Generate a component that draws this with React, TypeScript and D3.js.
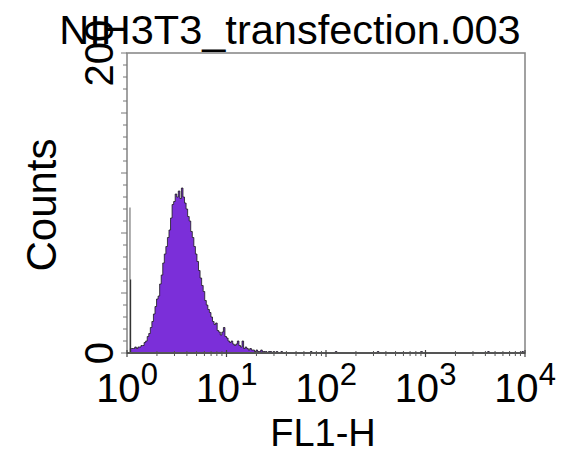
import React from "react";
import * as d3 from "d3";

// Histogram channel counts (256 channels spanning 10^0..10^4), channels 2..100
const channelCounts: number[] = [
  3, 3, 3, 4, 3, 4, 4, 5, 5, 7,
  8, 11, 13, 17, 21, 26, 31, 36, 38, 46,
  52, 60, 66, 71, 77, 82, 90, 99, 101, 106,
  104, 108, 103, 110, 104, 100, 96, 91, 88, 81,
  77, 71, 66, 61, 55, 50, 45, 41, 35, 32,
  29, 27, 24, 21, 19, 20, 15, 14, 12, 14,
  17, 11, 10, 8, 7, 8, 6, 5, 6, 8,
  5, 4, 8, 3, 4, 3, 2, 3, 2, 2,
  1, 2, 1, 1, 2, 1, 1, 1, 0, 1,
  1, 0, 1, 0, 1, 0, 0, 1, 0,
];
const firstChannel = 2;
// sparse events at high channels
const sparseChannels: number[] = [118, 134, 161, 189, 232, 254];
const sparseCounts: number[] = [1, 1, 1, 1, 1, 1];
// off-scale pile-up at the lowest channel (gray and dark traces)
const edgeSpikeGray = 97;
const edgeSpikeDark = 49;

const nChannels = 256;
const xDecades: number[] = [0, 1, 2, 3, 4];
const yMax = 200;
const yTickLabels: number[] = [0, 200];

const W = 571;
const H = 453;
const left = 127;
const right = 525;
const top = 53;
const bottom = 353;

export default function App() {
  const x = d3.scaleLog().domain([1, 1e4]).range([left, right]);
  const ch = d3.scaleLinear().domain([0, nChannels]).range([left, right]);
  const y = d3.scaleLinear().domain([0, yMax]).range([bottom, top]);

  const bins: { c: number; v: number }[] = [];
  channelCounts.forEach((v, i) => bins.push({ c: firstChannel + i, v }));
  sparseChannels.forEach((c, i) => bins.push({ c, v: sparseCounts[i] }));
  bins.sort((a, b) => a.c - b.c);

  let d = `M${ch(firstChannel)},${y(0)}`;
  let prevEnd = firstChannel;
  bins.forEach((b) => {
    if (b.c !== prevEnd) {
      d += `L${ch(prevEnd)},${y(0)}L${ch(b.c)},${y(0)}`;
    }
    d += `L${ch(b.c)},${y(b.v)}L${ch(b.c + 1)},${y(b.v)}`;
    prevEnd = b.c + 1;
  });
  d += `L${ch(prevEnd)},${y(0)}Z`;

  const minorX: number[] = [];
  for (let e = 0; e < 4; e++) {
    for (let m = 2; m <= 9; m++) minorX.push(m * Math.pow(10, e));
  }
  const yTicks = d3.range(0, yMax + 0.1, 8);

  const font = "Liberation Sans, Arial, Helvetica, sans-serif";

  return (
    <svg
      width={W}
      height={H}
      style={{ position: "absolute", left: 0, top: 0, background: "#fff" }}
      fontFamily={font}
    >
      <rect x={0} y={0} width={W} height={H} fill="#fff" />
      <path d={d} fill="#7b2fd9" stroke="#1a1a1a" strokeWidth={0.8} strokeLinejoin="miter" />
      <line x1={ch(1.9)} x2={ch(1.9)} y1={y(0)} y2={y(edgeSpikeGray)} stroke="#9a9a9a" strokeWidth={1.6} />
      <line x1={ch(2.3)} x2={ch(2.3)} y1={y(0)} y2={y(edgeSpikeDark)} stroke="#333" strokeWidth={1.2} />

      <rect x={left} y={top} width={right - left} height={bottom - top} fill="none" stroke="#8a8a8a" strokeWidth={1.6} />
      <line x1={left} x2={right} y1={bottom} y2={bottom} stroke="#555" strokeWidth={2} />

      {yTicks.map((t) => (
        <line key={t} x1={left - (t % 40 === 0 ? 6 : 4)} x2={left} y1={y(t)} y2={y(t)} stroke="#777" strokeWidth={1} />
      ))}
      {xDecades.map((e) => (
        <line key={"M" + e} x1={x(Math.pow(10, e))} x2={x(Math.pow(10, e))} y1={bottom - 3} y2={bottom + 4} stroke="#444" strokeWidth={1.2} />
      ))}
      {minorX.map((v) => (
        <line key={"m" + v} x1={x(v)} x2={x(v)} y1={bottom - 2} y2={bottom + 3} stroke="#555" strokeWidth={1} />
      ))}

      {yTickLabels.map((t) => (
        <text key={t} transform={`translate(113,${y(t)}) rotate(-90)`} textAnchor="middle" fontSize={40} fill="#000">
          {t}
        </text>
      ))}
      {xDecades.map((e) => (
        <text key={e} x={x(Math.pow(10, e))} y={402} textAnchor="middle" fontSize={40} fill="#000">
          <tspan>10</tspan>
          <tspan fontSize={31} dy={-17}>{e}</tspan>
        </text>
      ))}

      <text x={290} y={44} textAnchor="middle" fontSize={41.5} fill="#000">
        NIH3T3_transfection.003
      </text>
      <text x={323} y={446} textAnchor="middle" fontSize={38} fill="#000">
        FL1-H
      </text>
      <text transform={`translate(56,205) rotate(-90)`} textAnchor="middle" fontSize={42} fill="#000">
        Counts
      </text>
    </svg>
  );
}
